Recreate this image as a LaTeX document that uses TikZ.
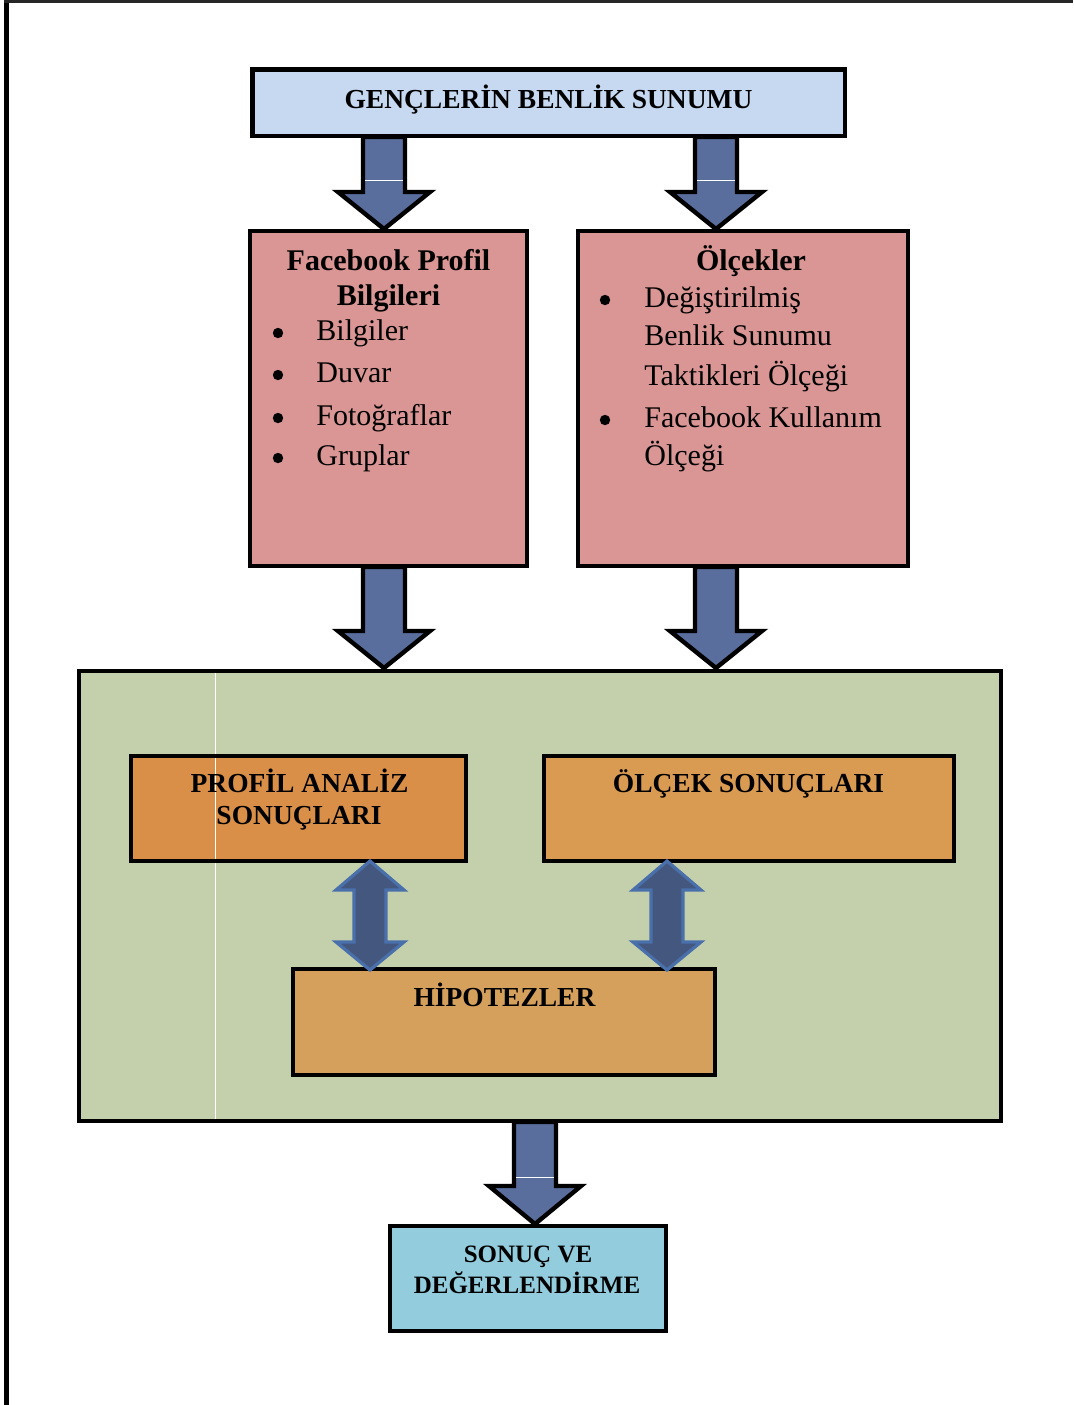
\documentclass[tikz,border=0pt]{standalone}
\usepackage{fontspec}
\setmainfont{Liberation Serif}
\usetikzlibrary{fit}
\definecolor{cTitle}{HTML}{C6D9F1}
\definecolor{cPink}{HTML}{D99694}
\definecolor{cGreen}{HTML}{C4D0AB}
\definecolor{cOrA}{HTML}{D98F48}
\definecolor{cOrB}{HTML}{D99A52}
\definecolor{cOrC}{HTML}{D4A05C}
\definecolor{cCyan}{HTML}{93CDDD}
\definecolor{cArrow}{HTML}{5A6E9E}
\definecolor{cDArrow}{HTML}{44587F}
\definecolor{cDEdge}{HTML}{4A70AC}
\tikzset{
  boxshape/.style={draw=black, line width=2.3pt, inner sep=0pt, rectangle},
  blockarrow/.style={draw=black, line width=2.2pt, fill=cArrow, line join=miter},
  dblarrow/.style={draw=cDEdge, line width=1.6pt, fill=cDArrow, line join=miter},
  head/.style={font=\fontsize{13.75}{16}\selectfont\bfseries, anchor=base, inner sep=0pt},
  headsm/.style={font=\fontsize{12.5}{15}\selectfont\bfseries, anchor=base, inner sep=0pt},
  bhead/.style={font=\fontsize{15}{18}\selectfont\bfseries, anchor=base, inner sep=0pt},
  item/.style={font=\fontsize{15}{18}\selectfont, anchor=base west, inner sep=0pt},
  bul/.style={circle, fill=black, inner sep=0pt, minimum size=5.2pt},
  glitch/.style={draw=white, line width=0.5pt},
}
% down block arrow: cx, shaft top, head top, tip
\newcommand\downblock[4]{%
  \draw[blockarrow] (#1-21,#2) -- (#1-21,#3) -- (#1-46,#3) -- (#1,#4) -- (#1+46,#3) -- (#1+21,#3) -- (#1+21,#2) -- cycle;}
% double arrow: cx
\newcommand\updownblock[1]{%
  \draw[dblarrow] (#1,861) -- (#1+34,890) -- (#1+16,890) -- (#1+16,942) -- (#1+34,942) -- (#1,970) -- (#1-34,942) -- (#1-16,942) -- (#1-16,890) -- (#1-34,890) -- cycle;}
\begin{document}
\begin{tikzpicture}[x=0.5pt, y=-0.5pt]
\useasboundingbox (0,0) rectangle (1073,1405);
% page frame
\draw[line width=2.5pt] (6.5,0) -- (6.5,1405);
\draw[line width=1.3pt, black!85] (4,1.3) -- (1073,1.3);

% boxes
\node[boxshape, fill=cTitle, fit={(252.5,69.5) (845,136)}] (title) {};
\node[boxshape, fill=cPink, fit={(250,231) (527,566)}] (fb) {};
\node[boxshape, fill=cPink, fit={(578,231) (908,566)}] (olc) {};
\node[boxshape, fill=cGreen, fit={(79,671) (1001,1121)}] (green) {};
\draw[glitch] (215,673) -- (215,1119);
\node[boxshape, fill=cOrA, fit={(131,756) (466,861)}] (prof) {};
\draw[glitch] (215,758) -- (215,859);
\node[boxshape, fill=cOrB, fit={(544,756) (954,861)}] (olcs) {};
\node[boxshape, fill=cOrC, fit={(293,969) (715,1075)}] (hip) {};
\node[boxshape, fill=cCyan, fit={(390,1226) (666,1331)}] (son) {};

% arrows
\downblock{384}{137}{192}{229}
\draw[glitch] (365,180) -- (403,180);
\downblock{716}{137}{192}{229}
\draw[glitch] (697,180) -- (735,180);
\downblock{384}{567}{631}{668}
\downblock{716}{567}{631}{668}
\downblock{535}{1122}{1186}{1224}
\draw[glitch] (516,1177) -- (554,1177);
\updownblock{370}
\updownblock{667}

% texts
\node[head] (t1) at (548.5,108) {GENÇLERİN BENLİK SUNUMU};

\node[bhead] (fb1) at (388.5,270) {Facebook Profil};
\node[bhead] (fb2) at (388.5,305) {Bilgileri};
\node[bul] (fbb1) at (278,333) {};
\node[item] (fbi1) at (316,340) {Bilgiler};
\node[bul] (fbb2) at (278,375) {};
\node[item] (fbi2) at (316,382) {Duvar};
\node[bul] (fbb3) at (278,418) {};
\node[item] (fbi3) at (316,425) {Fotoğraflar};
\node[bul] (fbb4) at (278,458) {};
\node[item] (fbi4) at (316,465) {Gruplar};

\node[bhead] (o1) at (751,270) {Ölçekler};
\node[bul] (ob1) at (605,300) {};
\node[item] (oi1) at (644,307) {Değiştirilmiş};
\node[item] (oi2) at (644,345) {Benlik Sunumu};
\node[item] (oi3) at (644,385) {Taktikleri Ölçeği};
\node[bul] (ob2) at (605,420) {};
\node[item] (oi4) at (644,427) {Facebook Kullanım};
\node[item] (oi5) at (644,465) {Ölçeği};

\node[head] (p1) at (299.5,792) {PROFİL ANALİZ};
\node[head] (p2) at (299,824) {SONUÇLARI};
\node[head] (s1) at (748.5,792) {ÖLÇEK SONUÇLARI};
\node[head] (h1) at (504.5,1006) {HİPOTEZLER};
\node[headsm] (r1) at (528,1262) {SONUÇ VE};
\node[headsm] (r2) at (527,1293) {DEĞERLENDİRME};
\end{tikzpicture}
\end{document}
